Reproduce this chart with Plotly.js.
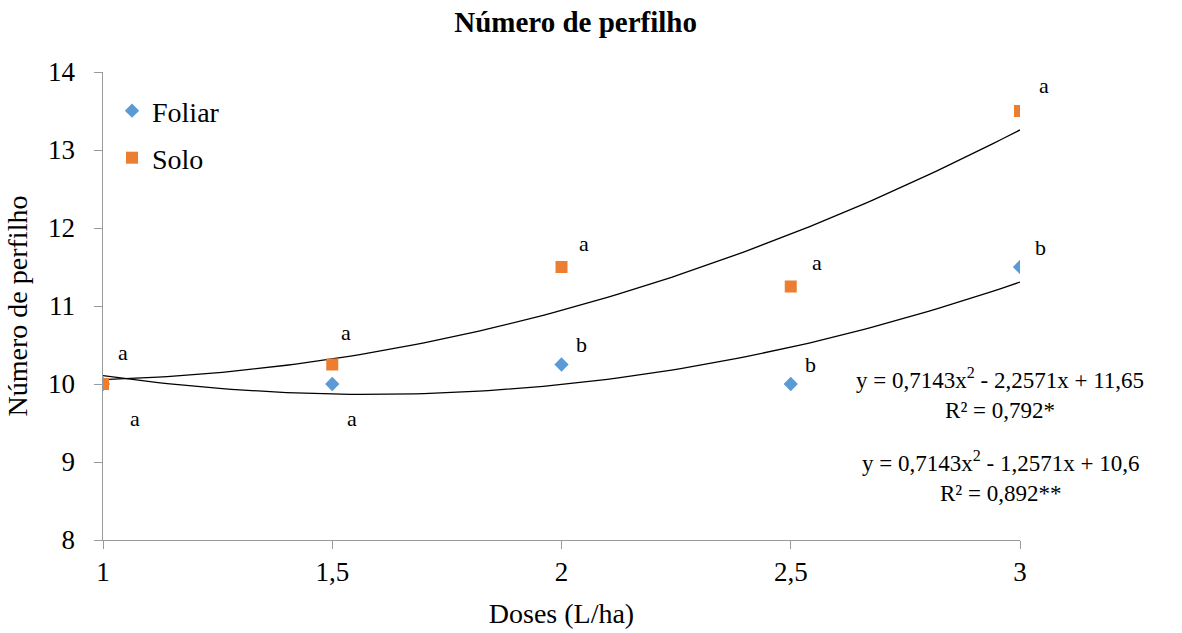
<!DOCTYPE html>
<html><head><meta charset="utf-8">
<script src="https://cdn.plot.ly/plotly-3.0.1.min.js"></script>
<style>html,body{margin:0;padding:0;background:#fff}#c{width:1182px;height:633px}</style>
</head><body><div id="c"></div>
<script>
var doses = [1, 1.5, 2, 2.5, 3];
var foliar = [10, 10, 10.25, 10, 11.5];
var solo = [10, 10.25, 11.5, 11.25, 13.5];
var foliarLetters = ['a', 'a', 'b', 'b', 'b'];
var soloLetters = ['a', 'a', 'a', 'a', 'a'];
// trendline coefficients [a, b, c] for y = a x^2 + b x + c (from the chart's equations)
var foliarFit = [0.7143, -2.2571, 11.65];
var soloFit = [0.7143, -1.2571, 10.6];
var eqFoliar = 'y = 0,7143x<sup>2</sup> - 2,2571x + 11,65<br>R² = 0,792*';
var eqSolo = 'y = 0,7143x<sup>2</sup> - 1,2571x + 10,6<br>R² = 0,892**';

function curve(c){
  var xs=[],ys=[];
  for(var i=0;i<=100;i++){var x=doses[0]+(doses[doses.length-1]-doses[0])*i/100;xs.push(x);ys.push(c[0]*x*x+c[1]*x+c[2]);}
  return {x:xs,y:ys};
}
var cf=curve(foliarFit), cs=curve(soloFit);
var F='Liberation Serif, Times New Roman, serif';
var traces=[
 {x:cf.x,y:cf.y,mode:'lines',line:{color:'#000',width:1.3},showlegend:false,hoverinfo:'skip'},
 {x:cs.x,y:cs.y,mode:'lines',line:{color:'#000',width:1.3},showlegend:false,hoverinfo:'skip'},
 {x:doses,y:foliar,mode:'markers',name:'Foliar',legend:'legend',marker:{symbol:'diamond',size:11,color:'#5B9BD5'}},
 {x:doses,y:solo,mode:'markers',name:'Solo',legend:'legend2',marker:{symbol:'square',size:12,color:'#ED7D31'}}
];
var L=103,R=162,T=72,B=93,W=1182,H=633,pw=W-L-R,ph=H-T-B;
// letter offsets (pixels) relative to each point: [dx, dy] (dy positive = down)
var soloOff=[[20,-32],[14,-32],[22,-24],[26,-24],[24,-26]];
var folOff=[[32,34],[20,34],[20,-20],[20,-20],[20,-20]];
var ann=[];
for(var i=0;i<doses.length;i++){
  ann.push({x:doses[i],y:solo[i],xref:'x',yref:'y',text:soloLetters[i],showarrow:false,xshift:soloOff[i][0],yshift:-soloOff[i][1],font:{family:F,size:22,color:'#000'}});
  ann.push({x:doses[i],y:foliar[i],xref:'x',yref:'y',text:foliarLetters[i],showarrow:false,xshift:folOff[i][0],yshift:-folOff[i][1],font:{family:F,size:22,color:'#000'}});
}
ann.push({x:(1000-L)/pw,y:1-(393-T)/ph,xref:'paper',yref:'paper',xanchor:'center',yanchor:'middle',text:eqFoliar,showarrow:false,font:{family:F,size:23,color:'#000'}});
ann.push({x:(1000-L)/pw,y:1-(476-T)/ph,xref:'paper',yref:'paper',xanchor:'center',yanchor:'middle',text:eqSolo,showarrow:false,font:{family:F,size:23,color:'#000'}});
var layout={
 width:W,height:H,margin:{l:L,r:R,t:T,b:B},
 paper_bgcolor:'#fff',plot_bgcolor:'#fff',
 separators:',.',
 font:{family:F,size:27,color:'#000'},
 title:{text:'<b>Número de perfilho</b>',x:0.487,xanchor:'center',y:0.965,yanchor:'middle',font:{family:F,size:29,color:'#000'}},
 xaxis:{range:[1,3],tickvals:doses,showgrid:false,zeroline:false,showline:true,linecolor:'#9a9a9a',linewidth:1,ticks:'outside',ticklen:8,tickcolor:'#9a9a9a',tickfont:{family:F,size:27,color:'#000'},
   title:{text:'Doses (L/ha)',font:{family:F,size:28,color:'#000'},standoff:16}},
 yaxis:{range:[8,14],dtick:1,showgrid:false,zeroline:false,showline:true,linecolor:'#9a9a9a',linewidth:1,ticks:'outside',ticklen:8,tickcolor:'#9a9a9a',tickfont:{family:F,size:27,color:'#000'},ticksuffix:'\u2002',
   title:{text:'Número de perfilho',font:{family:F,size:28,color:'#000'},standoff:12}},
 legend:{x:(112-L)/pw,y:1-(111-T)/ph,xanchor:'left',yanchor:'middle',font:{family:F,size:28,color:'#000'},bgcolor:'rgba(0,0,0,0)',itemwidth:30},
 legend2:{x:(112-L)/pw,y:1-(158-T)/ph,xanchor:'left',yanchor:'middle',font:{family:F,size:28,color:'#000'},bgcolor:'rgba(0,0,0,0)',itemwidth:30},
 annotations:ann
};
Plotly.newPlot('c',traces,layout,{displayModeBar:false,staticPlot:true});
</script></body></html>
